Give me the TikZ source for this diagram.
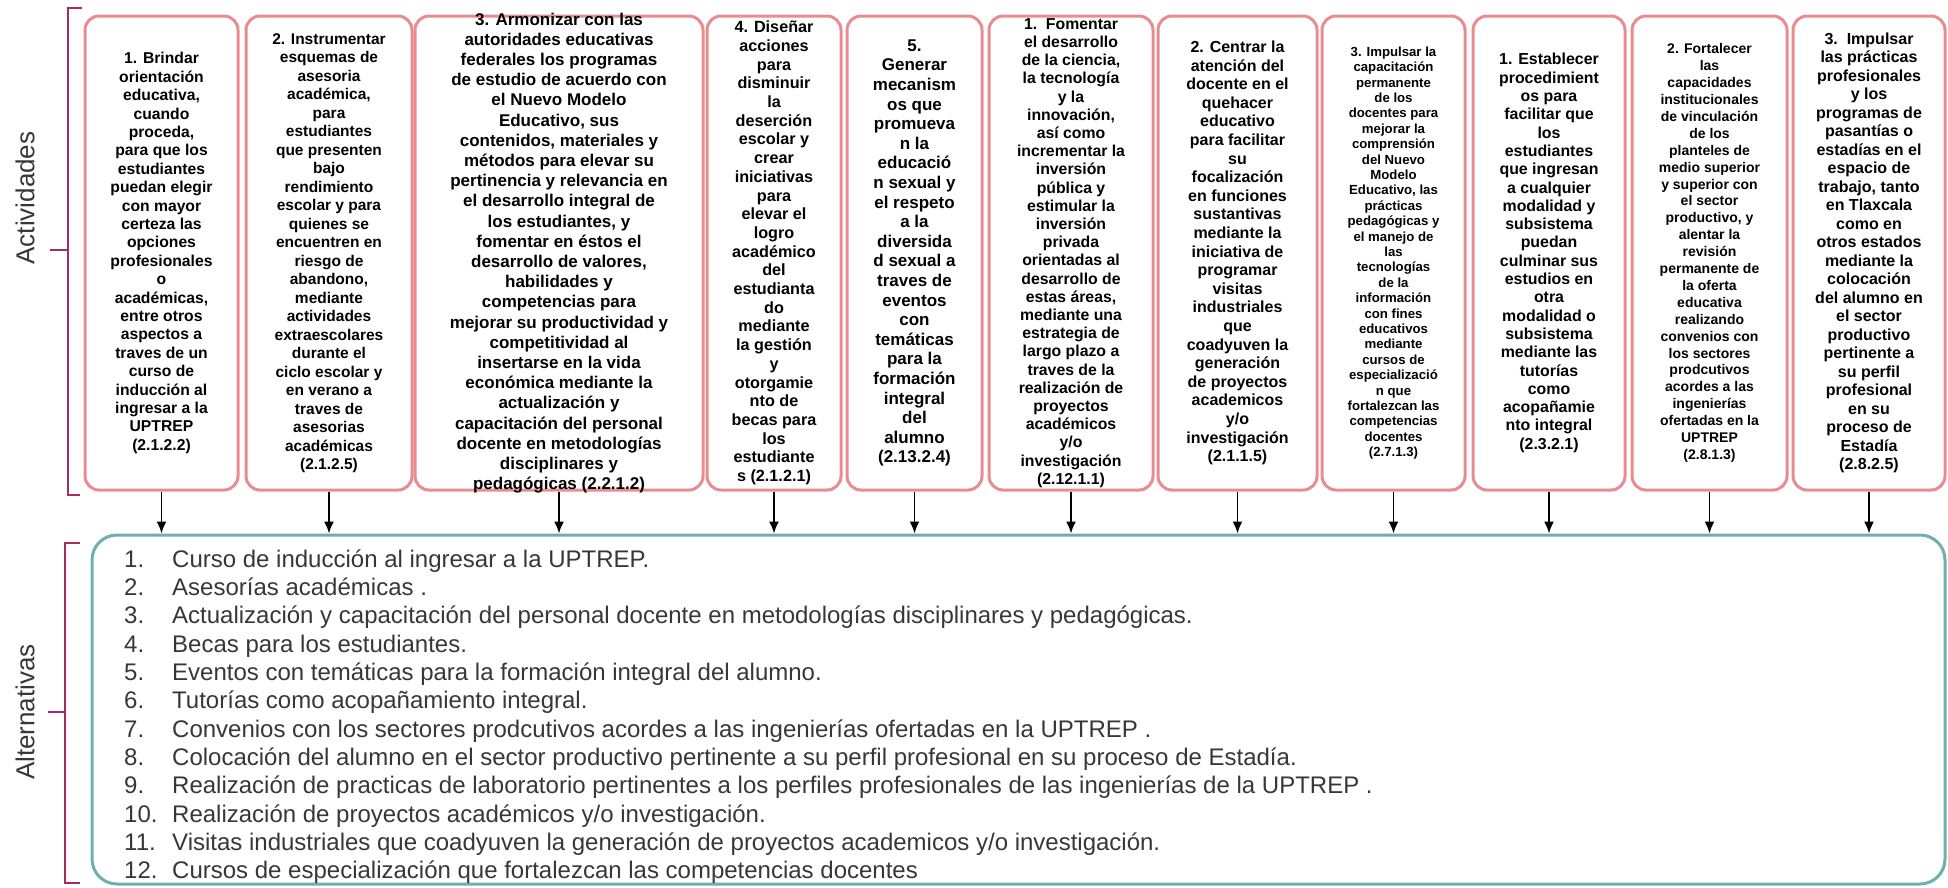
\documentclass[tikz,border=0pt]{standalone}
\usepackage{fontspec}
\setmainfont{Liberation Sans}
\usetikzlibrary{arrows.meta}
\definecolor{rosa}{RGB}{233,140,145}
\definecolor{verdeazul}{RGB}{110,175,175}
\definecolor{llavecol}{RGB}{165,45,95}
\definecolor{gristexto}{RGB}{55,55,55}
\newcommand{\fuente}[2]{\fontsize{#1pt}{#2pt}\selectfont}

\begin{document}
\begin{tikzpicture}[x=1pt,y=-1pt,
		caja/.style 2 args={draw=rosa, line width=3pt, rounded corners=14pt, fill=white, align=center,
			inner xsep=2pt, inner ysep=-6pt, minimum height=474pt, font=\bfseries\fuente{#1}{#2}},
		flecha/.style={-{Latex[length=12pt,width=10pt]}, line width=1.8pt},
		llave/.style={draw=llavecol, line width=1.3pt},
		etiqueta/.style={rotate=90, font=\fuente{26}{30}, text=gristexto}]
		\useasboundingbox (0,0) rectangle (1948,887);
		\node[etiqueta] (lact) at (25,198) {Actividades};
		\node[etiqueta] (lalt) at (25,712) {Alternativas};
		\draw[llave] (82,8) -- (68,8) -- (68,495) -- (80,495);
		\draw[llave] (68,250) -- (50,250);
		\draw[llave] (80,543) -- (65,543) -- (65,883) -- (80,883);
		\draw[llave] (65,712) -- (48,712);
		\node[caja={15.7}{18.4}, minimum width=153pt] (a1) at (161.5,253) {1. Brindar\\orientación\\educativa,\\cuando\\proceda,\\para que los\\estudiantes\\puedan elegir\\con mayor\\certeza las\\opciones\\profesionales\\o\\académicas,\\entre otros\\aspectos a\\traves de un\\curso de\\inducción al\\ingresar a la\\UPTREP\\(2.1.2.2)};
		\node[caja={15.5}{18.5}, minimum width=166pt] (a2) at (329,253) {2. Instrumentar\\esquemas de\\asesoria\\académica,\\para\\estudiantes\\que presenten\\bajo\\rendimiento\\escolar y para\\quienes se\\encuentren en\\riesgo de\\abandono,\\mediante\\actividades\\extraescolares\\durante el\\ciclo escolar y\\en verano a\\traves de\\asesorias\\académicas\\(2.1.2.5)};
		\node[caja={17}{20.2}, minimum width=288pt] (a3) at (559,253) {3. Armonizar con las\\autoridades educativas\\federales los programas\\de estudio de acuerdo con\\el Nuevo Modelo\\Educativo, sus\\contenidos, materiales y\\métodos para elevar su\\pertinencia y relevancia en\\el desarrollo integral de\\los estudiantes, y\\fomentar en éstos el\\desarrollo de valores,\\habilidades y\\competencias para\\mejorar su productividad y\\competitividad al\\insertarse en la vida\\económica mediante la\\actualización y\\capacitación del personal\\docente en metodologías\\disciplinares y\\pedagógicas (2.2.1.2)};
		\node[caja={16.2}{18.7}, minimum width=134pt] (a4) at (774,253) {4. Diseñar\\acciones\\para\\disminuir\\la\\deserción\\escolar y\\crear\\iniciativas\\para\\elevar el\\logro\\académico\\del\\estudianta\\do\\mediante\\la gestión\\y\\otorgamie\\nto de\\becas para\\los\\estudiante\\s (2.1.2.1)};
		\node[caja={17}{19.6}, minimum width=135pt] (a5) at (914.5,253) {5.\\Generar\\mecanism\\os que\\promueva\\n la\\educació\\n sexual y\\el respeto\\a la\\diversida\\d sexual a\\traves de\\eventos\\con\\temáticas\\para la\\formación\\integral\\del\\alumno\\(2.13.2.4)};
		\node[caja={15.8}{18.2}, minimum width=164pt] (a6) at (1071,253) {1.\ \ Fomentar\\el desarrollo\\de la ciencia,\\la tecnología\\y la\\innovación,\\así como\\incrementar la\\inversión\\pública y\\estimular la\\inversión\\privada\\orientadas al\\desarrollo de\\estas áreas,\\mediante una\\estrategia de\\largo plazo a\\traves de la\\realización de\\proyectos\\académicos\\y/o\\investigación\\(2.12.1.1)};
		\node[caja={16}{18.6}, minimum width=159pt] (a7) at (1237.5,253) {2. Centrar la\\atención del\\docente en el\\quehacer\\educativo\\para facilitar\\su\\focalización\\en funciones\\sustantivas\\mediante la\\iniciativa de\\programar\\visitas\\industriales\\que\\coadyuven la\\generación\\de proyectos\\academicos\\y/o\\investigación\\(2.1.1.5)};
		\node[caja={13.2}{15.4}, minimum width=143pt] (a8) at (1393.5,253) {3. Impulsar la\\capacitación\\permanente\\de los\\docentes para\\mejorar la\\comprensión\\del Nuevo\\Modelo\\Educativo, las\\prácticas\\pedagógicas y\\el manejo de\\las\\tecnologías\\de la\\información\\con fines\\educativos\\mediante\\cursos de\\especializació\\n que\\fortalezcan las\\competencias\\docentes\\(2.7.1.3)};
		\node[caja={15.9}{18.3}, minimum width=152pt] (a9) at (1549,253) {1. Establecer\\procedimient\\os para\\facilitar que\\los\\estudiantes\\que ingresan\\a cualquier\\modalidad y\\subsistema\\puedan\\culminar sus\\estudios en\\otra\\modalidad o\\subsistema\\mediante las\\tutorías\\como\\acopañamie\\nto integral\\(2.3.2.1)};
		\node[caja={14}{16.9}, minimum width=155pt] (a10) at (1709.5,253) {2. Fortalecer\\las\\capacidades\\institucionales\\de vinculación\\de los\\planteles de\\medio superior\\y superior con\\el sector\\productivo, y\\alentar la\\revisión\\permanente de\\la oferta\\educativa\\realizando\\convenios con\\los sectores\\prodcutivos\\acordes a las\\ingenierías\\ofertadas en la\\UPTREP\\(2.8.1.3)};
		\node[caja={16}{18.5}, minimum width=152pt] (a11) at (1869,253) {3.\ \ Impulsar\\las prácticas\\profesionales\\y los\\programas de\\pasantías o\\estadías en el\\espacio de\\trabajo, tanto\\en Tlaxcala\\como en\\otros estados\\mediante la\\colocación\\del alumno en\\el sector\\productivo\\pertinente a\\su perfil\\profesional\\en su\\proceso de\\Estadía\\(2.8.2.5)};
		\node[draw=verdeazul, line width=3pt, rounded corners=25pt, minimum width=1853pt, minimum height=349pt] (alt) at (1018.5,709.5) {};
		\node[anchor=base west, inner sep=0pt, font=\fuente{24}{28.35}, text=gristexto] (lista) at (124,567) {\begin{tabular}[t]{@{}p{48pt}@{}l@{}}
				1. & Curso de inducción al ingresar a la UPTREP.\\
				2. & Asesorías académicas .\\
				3. & Actualización y capacitación del personal docente en metodologías disciplinares y pedagógicas.\\
				4. & Becas para los estudiantes.\\
				5. & Eventos con temáticas para la formación integral del alumno.\\
				6. & Tutorías como acopañamiento integral.\\
				7. & Convenios con los sectores prodcutivos acordes a las ingenierías ofertadas en la UPTREP .\\
				8. & Colocación del alumno en el sector productivo pertinente a su perfil profesional en su proceso de Estadía.\\
				9. & Realización de practicas de laboratorio pertinentes a los perfiles profesionales de las ingenierías de la UPTREP .\\
				10. & Realización de proyectos académicos y/o investigación.\\
				11. & Visitas industriales que coadyuven la generación de proyectos academicos y/o investigación.\\
				12. & Cursos de especialización que fortalezcan las competencias docentes
			\end{tabular}};
		\foreach \i in {1,...,11}
			\draw[flecha] (a\i.south) -- (a\i.south |- alt.north);
	\end{tikzpicture}
\end{document}
